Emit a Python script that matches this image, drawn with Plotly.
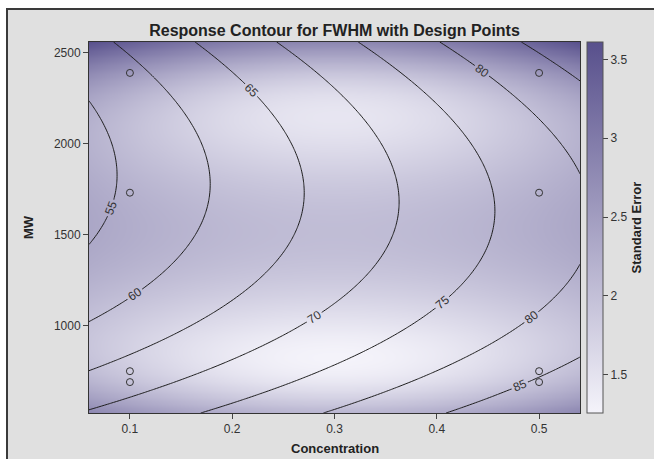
import numpy as np
import plotly.graph_objects as go

# Design points: every MW level run at both concentrations
conc_levels = [0.1, 0.5]
mw_levels = [688, 748, 1730, 2389]

# Fitted FWHM response surface (MW coded as (MW - 1500) / 1000)
coef_intercept = 51.5
coef_conc = 51.8
coef_mw = -7.22
coef_conc_mw = 10.3
coef_mw_sq = 9.7
root_mse = 2.74

contour_start, contour_end, contour_step = 55, 85, 5
x_ticks = [0.1, 0.2, 0.3, 0.4, 0.5]
y_ticks = [1000, 1500, 2000, 2500]
cbar_ticks = [1.5, 2, 2.5, 3, 3.5]

design_conc = np.repeat(conc_levels, len(mw_levels))
design_mw = np.tile(mw_levels, len(conc_levels))


def coded(mw):
    return (np.asarray(mw, dtype=float) - 1500.0) / 1000.0


def model_terms(c, mw):
    u = coded(mw)
    c = np.asarray(c, dtype=float)
    return np.stack([np.ones_like(u), c, u, c * u, u * u], axis=-1)


def padded(lo, hi, frac=0.1):
    span = hi - lo
    return [lo - frac * span, hi + frac * span]


x_range = padded(min(conc_levels), max(conc_levels))
y_range = padded(min(mw_levels), max(mw_levels))

xs = np.linspace(x_range[0], x_range[1], 161)
ys = np.linspace(y_range[0], y_range[1], 161)
CX, MY = np.meshgrid(xs, ys)

beta = np.array([coef_intercept, coef_conc, coef_mw, coef_conc_mw, coef_mw_sq])
F = model_terms(CX, MY) @ beta

# Standard error of the predicted mean from the design matrix
X = model_terms(design_conc, design_mw)
xtx_inv = np.linalg.inv(X.T @ X)
G = model_terms(CX, MY)
lev = np.einsum("ijk,kl,ijl->ij", G, xtx_inv, G)
SE = root_mse * np.sqrt(lev)

font_family = "Liberation Sans, Arial, sans-serif"
ink = "#222222"
tick_ink = "#333333"

fig = go.Figure()

fig.add_trace(go.Heatmap(
    x=xs, y=ys, z=SE,
    zsmooth="best",
    colorscale=[[0, "#f4f3fa"], [1, "#58508c"]],
    hoverinfo="skip",
    colorbar=dict(
        title=dict(text="<b>Standard Error</b>", side="right",
                   font=dict(size=13, color=ink, family=font_family)),
        thickness=16, thicknessmode="pixels",
        len=1, lenmode="fraction", y=0.5, yanchor="middle",
        x=1.0143, xanchor="left", xpad=0, ypad=0,
        outlinecolor="#555555", outlinewidth=1,
        ticks="outside", ticklen=5, tickcolor="#444444",
        tickvals=cbar_ticks,
        tickfont=dict(size=12, color=tick_ink, family=font_family),
    ),
))

fig.add_trace(go.Contour(
    x=xs, y=ys, z=F,
    autocontour=False,
    contours=dict(start=contour_start, end=contour_end, size=contour_step,
                  coloring="none", showlabels=True,
                  labelfont=dict(size=12, color="#333333", family=font_family)),
    line=dict(color="#1e1e1e", width=1),
    showscale=False,
    hoverinfo="skip",
))

fig.add_trace(go.Scatter(
    x=design_conc, y=design_mw,
    mode="markers",
    marker=dict(symbol="circle-open", size=7, color="#333333",
                line=dict(width=1, color="#333333")),
    hoverinfo="skip",
    showlegend=False,
))

axis_common = dict(
    showline=True, linecolor="#333333", linewidth=1, mirror=True,
    ticks="outside", ticklen=5, tickcolor="#444444",
    showgrid=False, zeroline=False,
    tickfont=dict(size=12, color=tick_ink, family=font_family),
)

plot_h = 459 - 42 - 46

fig.update_layout(
    width=654, height=459,
    margin=dict(l=89, r=74, t=42, b=46, autoexpand=False),
    paper_bgcolor="white",
    plot_bgcolor="#e0e0e0",
    showlegend=False,
    font=dict(family=font_family, color=ink),
    title=dict(text="<b>Response Contour for FWHM with Design Points</b>",
               x=0.5, xref="paper", xanchor="center",
               y=1 - 30 / 459, yref="container", yanchor="middle",
               font=dict(size=16, color=ink, family=font_family)),
    xaxis=dict(range=x_range, tickvals=x_ticks, **axis_common),
    yaxis=dict(range=y_range, tickvals=y_ticks,
               title=dict(text="<b>MW</b>", standoff=17,
                          font=dict(size=13, color=ink, family=font_family)),
               **axis_common),
    annotations=[dict(text="<b>Concentration</b>", xref="paper", yref="paper",
                      x=0.5, y=-36 / plot_h, xanchor="center", yanchor="middle",
                      showarrow=False,
                      font=dict(size=13, color=ink, family=font_family))],
    shapes=[dict(type="rect", xref="paper", yref="paper",
                 x0=-0.167, x1=1.25, y0=-0.16, y1=1.089,
                 fillcolor="#e0e0e0", line=dict(color="#3a3a3a", width=2),
                 layer="below")],
)

fig.write_html("out.html")
